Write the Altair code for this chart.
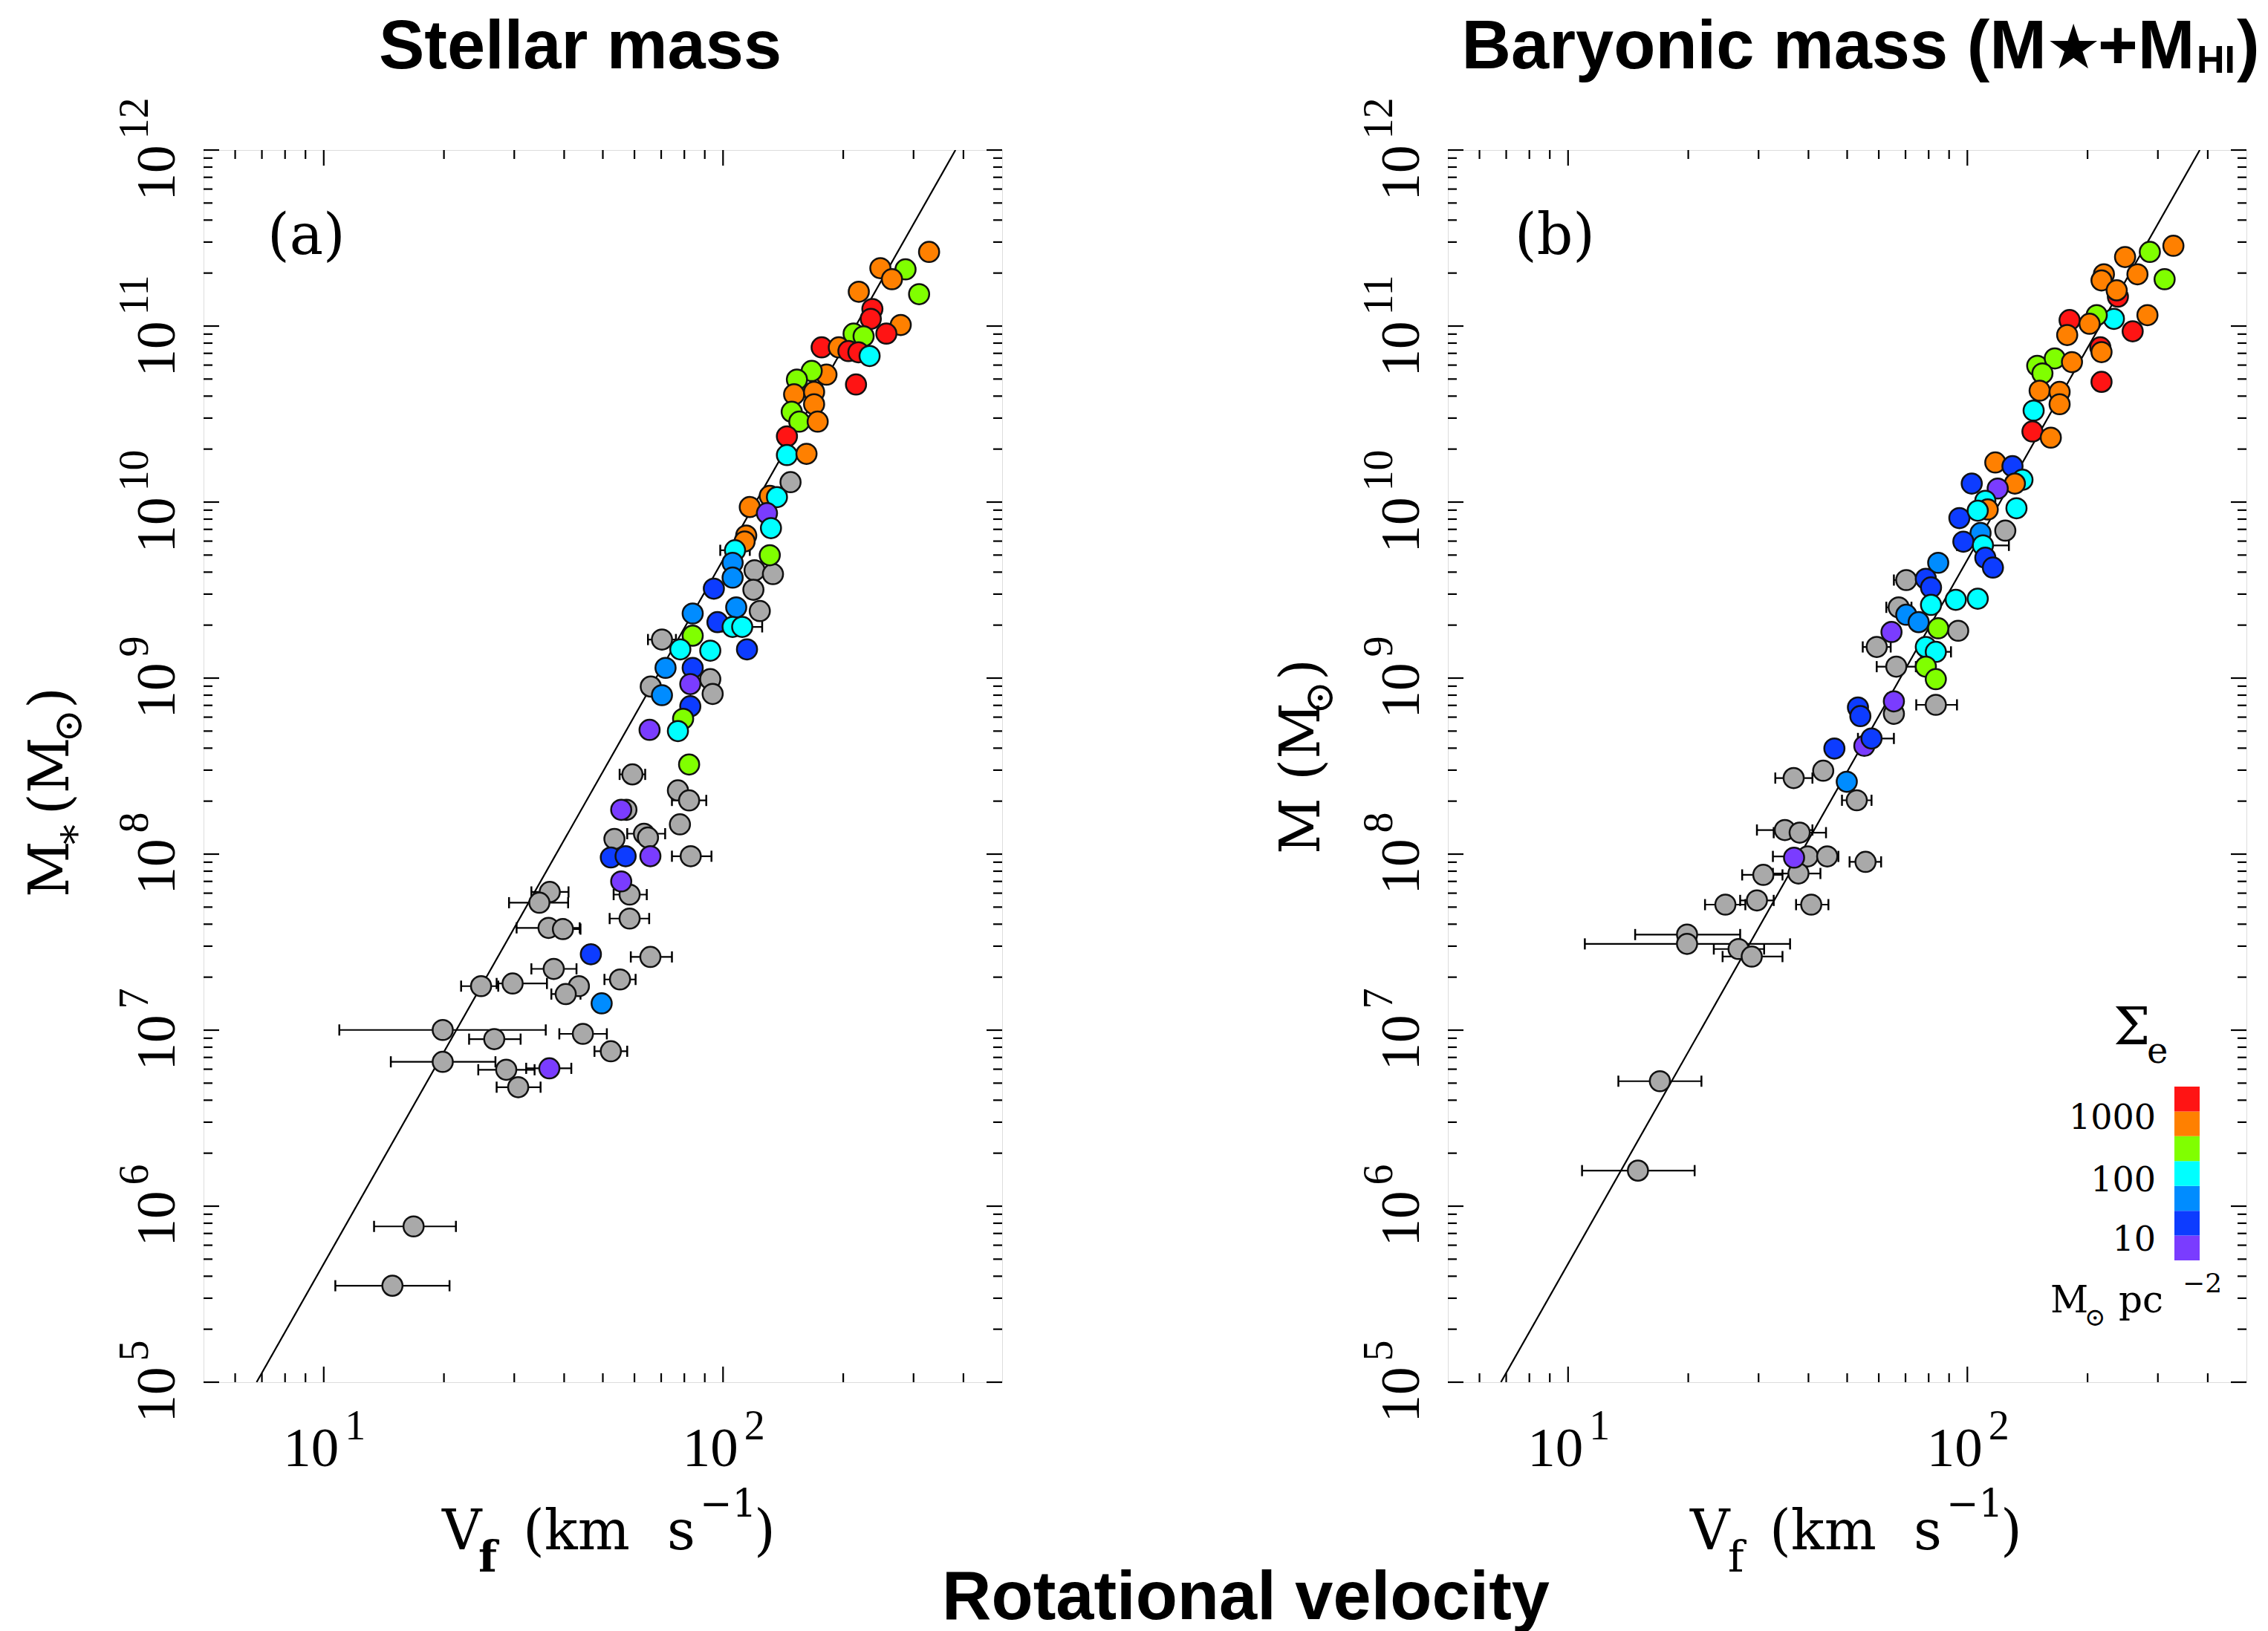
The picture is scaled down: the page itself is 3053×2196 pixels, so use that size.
import altair as alt
import pandas as pd

# ---------------- data (log10 values) ----------------
# Panel (a): stellar mass vs flat rotation velocity
a_logv = [2.516, 2.394, 2.457, 2.423, 2.340, 2.491, 2.374, 2.370, 2.445, 2.409,
          2.327, 2.352, 2.247, 2.290, 2.314, 2.339, 2.367, 2.333, 2.259, 2.222,
          2.185, 2.178, 2.228, 2.228, 2.172, 2.191, 2.237, 2.160, 2.160, 2.209,
          2.169, 2.117, 2.135, 2.067, 2.110, 2.120, 2.058, 2.054, 2.030, 2.117,
          2.024, 2.079, 2.125, 2.024, 1.977, 2.076, 2.033, 2.092, 1.924, 1.986,
          2.024, 2.048, 2.060, 1.847, 1.924, 1.893, 1.968, 1.856, 1.924, 1.918,
          1.968, 1.974, 1.819, 1.847, 1.918, 1.900, 1.887, 1.816, 1.915, 1.773,
          1.887, 1.915, 1.745, 1.758, 1.892, 1.728, 1.802, 1.812, 1.719, 1.756,
          1.818, 1.919, 1.745, 1.766, 1.766, 1.566, 1.540, 1.563, 1.599, 1.669,
          1.818, 1.576, 1.742, 1.639, 1.606, 1.696, 1.394, 1.473, 1.298, 1.427,
          1.649, 1.719, 1.298, 1.457, 1.565, 1.487, 1.225, 1.172]
a_logm = [11.421, 11.329, 11.322, 11.266, 11.195, 11.181, 11.097, 11.041, 11.006, 10.957,
          10.957, 10.942, 10.879, 10.879, 10.858, 10.851, 10.830, 10.668, 10.724, 10.745,
          10.696, 10.612, 10.626, 10.556, 10.513, 10.457, 10.457, 10.373, 10.267, 10.274,
          10.113, 10.035, 10.028, 9.972, 9.937, 9.852, 9.810, 9.776, 9.726, 9.698,
          9.655, 9.612, 9.591, 9.571, 9.508, 9.502, 9.402, 9.381, 9.367, 9.318,
          9.291, 9.291, 9.163, 9.219, 9.241, 9.163, 9.156, 9.058, 9.058, 8.966,
          8.994, 8.910, 8.952, 8.903, 8.840, 8.769, 8.699, 8.706, 8.509, 8.453,
          8.362, 8.305, 8.252, 8.252, 8.169, 8.086, 8.116, 8.094, 7.981, 7.988,
          7.988, 7.988, 7.845, 7.770, 7.634, 7.785, 7.724, 7.581, 7.574, 7.431,
          7.416, 7.348, 7.288, 7.250, 7.205, 7.152, 7.250, 7.265, 7.001, 6.949,
          6.979, 6.880, 6.820, 6.775, 6.783, 6.676, 5.885, 5.548]
# Sigma_e class of each point: g = no value (grey); p < b < a < c < G < o < r
a_cls = list("ooGooGrror" "GGrorrcroG" "GoooGGorco" "gocopcoocG" "aggabgagab"
             "ccbgGccabp" "gggabGcpGg" "ggpgggggbb" "pgpggggggb" "gggggagggg"
             "ggggpggg")
a_err_logm = [7.001, 6.820, 6.949, 6.979, 6.880, 6.783, 6.676, 6.775, 7.250, 7.265,
              7.348, 7.205, 7.288, 7.416, 7.785, 7.724, 7.581, 7.574, 7.770, 7.634,
              7.988, 8.305, 8.116, 5.885, 5.548, 9.726, 9.291, 9.219, 8.453]
a_err_lo = [1.039, 1.168, 1.364, 1.590, 1.678, 1.507, 1.433, 1.387, 1.344, 1.433,
            1.520, 1.570, 1.703, 1.769, 1.520, 1.464, 1.483, 1.557, 1.726, 1.716,
            1.872, 1.872, 1.760, 1.126, 1.029, 1.993, 1.998, 1.812, 1.741]
a_err_hi = [1.556, 1.430, 1.493, 1.709, 1.760, 1.620, 1.543, 1.528, 1.437, 1.559,
            1.633, 1.643, 1.781, 1.872, 1.613, 1.612, 1.641, 1.643, 1.809, 1.815,
            1.971, 1.958, 1.855, 1.331, 1.315, 2.067, 2.098, 1.882, 1.805]

# Panel (b): baryonic mass vs flat rotation velocity
b_logv = [2.516, 2.457, 2.395, 2.426, 2.342, 2.336, 2.494, 2.377, 2.374, 2.451,
          2.367, 2.324, 2.414, 2.256, 2.250, 2.306, 2.333, 2.336, 2.336, 2.175,
          2.219, 2.262, 2.188, 2.181, 2.231, 2.231, 2.166, 2.163, 2.209, 2.070,
          2.113, 2.138, 2.119, 2.011, 2.076, 2.045, 2.051, 2.123, 1.980, 2.095,
          2.026, 2.033, 1.990, 2.039, 2.045, 2.064, 1.927, 1.847, 1.896, 1.909,
          1.971, 2.026, 1.909, 1.828, 1.847, 1.878, 1.810, 1.927, 1.977, 1.773,
          1.896, 1.921, 1.822, 1.896, 1.921, 1.921, 1.816, 1.816, 1.726, 1.732,
          1.742, 1.760, 1.667, 1.639, 1.565, 1.698, 1.723, 1.543, 1.580, 1.566,
          1.600, 1.649, 1.745, 1.577, 1.489, 1.394, 1.473, 1.609, 1.298, 1.298,
          1.427, 1.460, 1.230, 1.175]
b_logm = [11.456, 11.421, 11.392, 11.294, 11.294, 11.259, 11.266, 11.167, 11.203, 11.062,
          11.041, 11.062, 10.970, 11.034, 10.949, 11.013, 10.879, 10.852, 10.683, 10.774,
          10.816, 10.795, 10.731, 10.633, 10.626, 10.556, 10.520, 10.401, 10.366, 10.225,
          10.204, 10.127, 10.105, 10.105, 10.077, 10.007, 9.958, 9.965, 9.909, 9.838,
          9.951, 9.824, 9.775, 9.754, 9.684, 9.628, 9.655, 9.557, 9.564, 9.515,
          9.445, 9.451, 9.416, 9.402, 9.360, 9.318, 9.262, 9.283, 9.269, 9.177,
          9.177, 9.149, 9.065, 9.065, 8.994, 8.848, 8.868, 8.797, 8.833, 8.784,
          8.615, 8.657, 8.600, 8.474, 8.432, 8.411, 8.306, 8.137, 8.122, 7.980,
          7.987, 7.987, 7.956, 7.890, 7.882, 7.713, 7.737, 7.713, 7.543, 7.490,
          7.461, 7.418, 6.710, 6.202]
b_cls = list("oGooooGroo" "cGrroororG" "GoGooocroo" "bcobpcocbg" "cabcbbagbb"
             "cccgaapGgg" "ccgGGgpgbb" "pbbggagggp" "gggggggggg" "gggg")
b_err_logm = [7.490, 7.543, 6.710, 6.202, 7.418, 7.461, 7.713, 7.737, 7.713, 7.882,
              7.890, 7.987, 7.956, 8.137, 8.122, 8.432, 8.306, 8.848, 9.557, 9.402,
              9.177, 9.065, 9.149, 9.754, 8.657]
b_err_lo = [1.042, 1.168, 1.126, 1.035, 1.387, 1.365, 1.343, 1.431, 1.571, 1.436,
            1.513, 1.513, 1.705, 1.473, 1.515, 1.519, 1.686, 1.872, 1.816, 1.797,
            1.738, 1.773, 1.884, 1.974, 1.726]
b_err_hi = [1.556, 1.431, 1.334, 1.317, 1.537, 1.491, 1.444, 1.515, 1.652, 1.537,
            1.632, 1.677, 1.784, 1.612, 1.646, 1.612, 1.760, 1.974, 1.878, 1.860,
            1.808, 1.871, 1.959, 2.104, 1.816]

# Fitted relation (line end points read at the frame edges)
fit_v = [6.79, 382.0]
fit_m = [1e5, 1e12]

# Sigma_e colour classes: log10(Sigma_e / M_sun pc^-2), 0.4 dex bands
sigma_codes = ["p", "b", "a", "c", "G", "o", "r"]
sigma_logvalues = [0.85, 1.25, 1.65, 2.05, 2.45, 2.85, 3.25]
sigma_logthresholds = [1.05, 1.45, 1.85, 2.25, 2.65, 3.05]
sigma_colors = ["#7a3cff", "#0d3cff", "#008cff", "#00ffff", "#80ff00", "#ff8000", "#ff1414"]
legend_labels = ["1000", "100", "10"]
GRAY = "#a9a9a9"

# Axis ticks and labels
x_major = [10, 100]
x_minor = [6, 7, 8, 9, 20, 30, 40, 50, 60, 70, 80, 90, 200, 300, 400]
x_exps = ["1", "2"]
y_ticks = [1e5, 1e6, 1e7, 1e8, 1e9, 1e10, 1e11, 1e12]
y_exps = ["5", "6", "7", "8", "9", "10", "11", "12"]
y_minor = [k * 10.0 ** e for e in range(5, 12) for k in range(2, 10)]

# ---------------- styling ----------------
W, H = 1075, 1659
SERIF = "DejaVu Serif"
DIGIT = "Liberation Serif"
SANS = "Liberation Sans"
BASE_FS, EXP_FS = 75, 56
W10, GAP, WEXP = 77, 8, 28
MAJ, MIN = 21, 12
TW = 2.2

XS = alt.Scale(type="log", domain=[5, 500], nice=False)
YS = alt.Scale(type="log", domain=[1e5, 1e12], nice=False)


def XE(f):
    return alt.X(f"{f}:Q", scale=XS, axis=None)


def YE(f):
    return alt.Y(f"{f}:Q", scale=YS, axis=None)


def text_layer(s, x, y, size, font=SERIF, weight="normal", align="left", angle=0):
    return alt.Chart(pd.DataFrame({"t": [s]})).mark_text(
        font=font, fontSize=size, fontWeight=weight, align=align, baseline="alphabetic",
        angle=angle, color="black").encode(text="t:N", x=alt.value(x), y=alt.value(y))


def tick_layers():
    layers = []
    for vals, L in ((x_major, MAJ), (x_minor, MIN)):
        df = pd.DataFrame({"v": vals})
        layers.append(alt.Chart(df).mark_rule(color="black", strokeWidth=TW).encode(
            x=XE("v"), y=alt.value(0), y2=alt.value(L)))
        layers.append(alt.Chart(df).mark_rule(color="black", strokeWidth=TW).encode(
            x=XE("v"), y=alt.value(H), y2=alt.value(H - L)))
    for vals, L in ((y_ticks, MAJ), (y_minor, MIN)):
        df = pd.DataFrame({"v": vals})
        layers.append(alt.Chart(df).mark_rule(color="black", strokeWidth=TW).encode(
            y=YE("v"), x=alt.value(0), x2=alt.value(L)))
        layers.append(alt.Chart(df).mark_rule(color="black", strokeWidth=TW).encode(
            y=YE("v"), x=alt.value(W), x2=alt.value(W - L)))
    return layers


def tick_label_layers():
    layers = []
    xdf = pd.DataFrame({"v": x_major, "base": ["10"] * len(x_major), "exp": x_exps})
    total = W10 + GAP + WEXP
    layers.append(alt.Chart(xdf).mark_text(font=DIGIT, fontSize=BASE_FS, align="right",
                                           baseline="alphabetic", dx=W10 - total / 2, color="black").encode(
        x=XE("v"), y=alt.value(H + 113), text="base:N"))
    layers.append(alt.Chart(xdf).mark_text(font=DIGIT, fontSize=EXP_FS, align="left",
                                           baseline="alphabetic", dx=W10 + GAP - total / 2, color="black").encode(
        x=XE("v"), y=alt.value(H + 77), text="exp:N"))
    ydf = pd.DataFrame({"v": y_ticks, "base": ["10"] * len(y_ticks), "exp": y_exps})
    for n in (1, 2):
        sub = ydf[ydf["exp"].str.len() == n]
        total = W10 + GAP + WEXP * n
        layers.append(alt.Chart(sub).mark_text(font=DIGIT, fontSize=BASE_FS, align="right", angle=270,
                                               baseline="alphabetic", dx=W10 - total / 2, color="black").encode(
            x=alt.value(-39), y=YE("v"), text="base:N"))
        layers.append(alt.Chart(sub).mark_text(font=DIGIT, fontSize=EXP_FS, align="left", angle=270,
                                               baseline="alphabetic", dx=W10 + GAP - total / 2, color="black").encode(
            x=alt.value(-75), y=YE("v"), text="exp:N"))
    return layers


def panel(logv, logm, cls, e_m, e_lo, e_hi, legend, texts, extra=()):
    pts = pd.DataFrame({"V": [10 ** v for v in logv], "M": [10 ** m for m in logm], "cls": cls})
    pts["logsig"] = pts["cls"].map(dict(zip(sigma_codes, sigma_logvalues)))
    grey = pts[pts["cls"] == "g"]
    col = pts[pts["cls"] != "g"]
    err = pd.DataFrame({"M": [10 ** m for m in e_m], "lo": [10 ** v for v in e_lo],
                        "hi": [10 ** v for v in e_hi]})
    caps = pd.DataFrame({"M": list(err["M"]) * 2, "V": list(err["lo"]) + list(err["hi"])})
    fit = pd.DataFrame({"V": fit_v, "M": fit_m})

    layers = [
        alt.Chart(fit).mark_line(color="black", strokeWidth=2.2, clip=True).encode(x=XE("V"), y=YE("M")),
        alt.Chart(err).mark_rule(color="black", strokeWidth=2.2).encode(x=XE("lo"), x2="hi", y=YE("M")),
        alt.Chart(caps).mark_tick(orient="vertical", color="black", thickness=2.5, size=15,
                                  opacity=1).encode(x=XE("V"), y=YE("M")),
        alt.Chart(grey).mark_circle(size=740, fill=GRAY, stroke="#111111", strokeWidth=2.5,
                                    opacity=1).encode(x=XE("V"), y=YE("M")),
        alt.Chart(col).mark_circle(size=740, stroke="#111111", strokeWidth=2.5, opacity=1).encode(
            x=XE("V"), y=YE("M"),
            color=alt.Color("logsig:Q", title=None,
                            scale=alt.Scale(type="threshold", domain=sigma_logthresholds,
                                            range=sigma_colors),
                            legend=legend)),
    ]
    layers += tick_layers()
    layers += tick_label_layers()
    layers += [text_layer(*t[:4], **(t[4] if len(t) > 4 else {})) for t in texts]
    layers += list(extra)
    return alt.layer(*layers).properties(width=W, height=H)


# Anchor the page origin relative to panel (a)'s plot area
anchor = alt.Chart(pd.DataFrame({"t": [0]})).mark_rule(strokeOpacity=0, strokeWidth=1).encode(
    x=alt.value(-273), x2=alt.value(-272), y=alt.value(-201), y2=alt.value(-200))

TFS = 74
BOLD = {"font": SANS, "weight": "bold"}
texts_a = [
    ("Stellar mass", 507, -110, 92, {**BOLD, "align": "center"}),
    ("Rotational velocity", 1403, 1978, 92, {**BOLD, "align": "center"}),
    ("(a)", 86, 140, 76),
    ("V", 321, 1884, TFS),
    ("f", 370, 1914, 58, {"weight": "bold"}),
    ("(km", 430, 1884, TFS),
    ("s", 624, 1884, TFS),
    ("−1", 668, 1840, 52),
    (")", 741, 1884, TFS),
    ("M", -182, 1006, TFS, {"angle": 270}),
    ("∗", -164, 940, 54, {"angle": 270}),
    ("(M", -182, 895, TFS, {"angle": 270}),
    ("⊙", -164, 798, 54, {"angle": 270}),
    (")", -182, 752, TFS, {"angle": 270}),
]
texts_b = [
    ("Baryonic mass (M", 806, -110, 92, {**BOLD, "align": "right"}),
    ("★", 809, -113, 74, BOLD),
    ("+M", 875, -110, 92, BOLD),
    ("HI", 1008, -104, 52, BOLD),
    (")", 1062, -110, 92, BOLD),
    ("(b)", 90, 140, 76),
    ("V", 326, 1884, TFS),
    ("f", 377, 1914, 58),
    ("(km", 433, 1884, TFS),
    ("s", 627, 1884, TFS),
    ("−1", 671, 1840, 52),
    (")", 744, 1884, TFS),
    ("M (M", -173, 948, TFS, {"angle": 270}),
    ("⊙", -155, 760, 54, {"angle": 270}),
    (")", -173, 714, TFS, {"angle": 270}),
    ("Σ", 896, 1204, 70),
    ("e", 941, 1229, 48),
    (legend_labels[0], 953, 1318, 46, {"align": "right"}),
    (legend_labels[1], 953, 1402, 46, {"align": "right"}),
    (legend_labels[2], 953, 1482, 46, {"align": "right"}),
    ("M", 811, 1565, 50),
    ("⊙", 857, 1583, 34),
    ("pc", 903, 1565, 50),
    ("−2", 989, 1538, 36),
]

legend_b = alt.Legend(orient="none", legendX=978, legendY=1261, direction="vertical", type="gradient",
                      gradientLength=234, gradientThickness=34, gradientStrokeWidth=0,
                      labelExpr="''", labelFontSize=1, labelOverlap=False, padding=0)

pa = panel(a_logv, a_logm, a_cls, a_err_logm, a_err_lo, a_err_hi, None, texts_a, extra=[anchor])
pb = panel(b_logv, b_logm, b_cls, b_err_logm, b_err_lo, b_err_hi, legend_b, texts_b)

chart = alt.hconcat(pa, pb, spacing=600, bounds="flush").resolve_scale(
    color="independent").resolve_legend(color="independent").configure_view(
    stroke="black", strokeWidth=2.5).configure(background="white").properties(padding=0)

chart.save("out.html", embed_options={"renderer": "svg", "actions": False})
